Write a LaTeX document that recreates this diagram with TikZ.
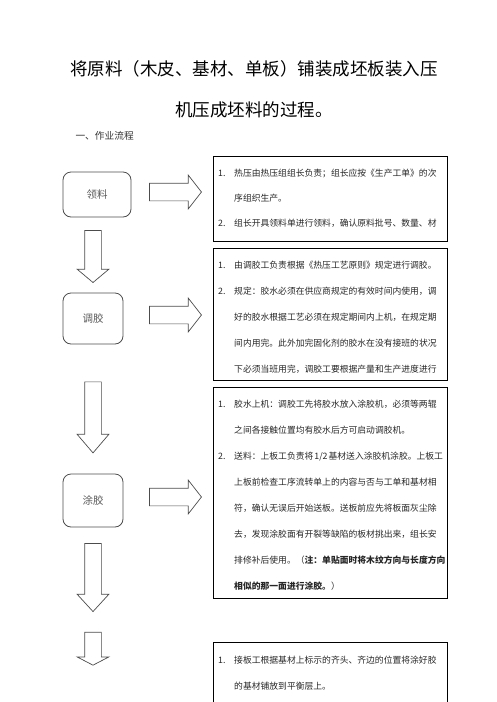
\documentclass[tikz,border=0pt]{standalone}
\usepackage{fontspec}
\setmainfont{Noto Sans CJK SC}
\usetikzlibrary{shapes.arrows,positioning}

\newcommand{\itm}[1]{\makebox[16pt][l]{#1}}
\newcommand{\ind}{\hspace*{16pt}}

\tikzset{
	stepbox/.style={draw=black!70, rounded corners=8pt, line width=0.8pt,
		text=black!65, font=\fontsize{10.5}{12}\selectfont, inner sep=0pt},
	notebox/.style={draw=black, line width=1.1pt, anchor=north west, inner sep=0pt},
	notetext/.style={inner sep=0pt, align=left, text=black!85,
		font=\fontsize{8.8}{26}\selectfont},
	bigarrow/.style={single arrow, draw=black!70, line width=0.7pt},
	rarrow/.style={bigarrow, inner sep=8.5pt, minimum width=33pt, single arrow head extend=8pt,
		minimum height=52pt, single arrow tip angle=104},
	darrow/.style={bigarrow, inner sep=8pt, shape border rotate=270, minimum width=31pt,
		single arrow head extend=7.5pt}
}

\begin{document}
\begin{tikzpicture}[x=1pt,y=-1pt]
	\useasboundingbox (0,0) rectangle (496,702);
	
	% title
	\node[font=\fontsize{17.5}{20}\selectfont] (title1) at (254,69) {将原料（木皮、基材、单板）铺装成坯板装入压};
	\node[font=\fontsize{17.5}{20}\selectfont] (title2) at (254,110) {机压成坯料的过程。};
	\node[anchor=west, font=\fontsize{9.7}{12}\selectfont, text=black!80] (flow) at (72,136) {一、作业流程};
	
	% steps
	\node[stepbox, minimum width=68pt, minimum height=45pt] (lingliao) at (97,194.5) {领料};
	\node[stepbox, minimum width=60pt, minimum height=51pt] (tiaojiao) at (93,318.5) {调胶};
	\node[stepbox, minimum width=60pt, minimum height=53pt] (tujiao) at (93,500.5) {涂胶};
	
	% arrows
	\node[rarrow] (r1) at (172,192) {};
	\node[rarrow] (r2) at (172,315) {};
	\node[rarrow] (r3) at (172,497) {};
	
	\node[darrow, minimum height=52pt, single arrow tip angle=100] (d1) at (93,253) {};
	\node[darrow, minimum height=71pt, single arrow tip angle=81] (d2) at (93,412.5) {};
	\node[darrow, minimum height=68pt, single arrow tip angle=85] (d3) at (93,573) {};
	\node[darrow, minimum height=33pt, single arrow tip angle=125] (d4) at (93,646.5) {};
	
	% notes
	\node[notebox, minimum width=234pt, minimum height=85pt] (note1) at (213,156) {};
	\node[notebox, minimum width=234pt, minimum height=132pt] (note2) at (213,248) {};
	\node[notebox, minimum width=234pt, minimum height=211pt] (note3) at (213,387) {};
	\node[notebox, minimum width=234pt, minimum height=80pt] (note4) at (213,642) {};
	
	\node[notetext, font=\fontsize{8.8}{25}\selectfont, below right=12.5pt and 5pt of note1.north west] (text1) {%
		\itm{1.}热压由热压组组长负责；组长应按《生产工单》的次\\
		\ind 序组织生产。\\
		\itm{2.}组长开具领料单进行领料，确认原料批号、数量、材};
	\node[notetext, below right=12.5pt and 5pt of note2.north west] (text2) {%
		\itm{1.}由调胶工负责根据《热压工艺原则》规定进行调胶。\\
		\itm{2.}规定：胶水必须在供应商规定的有效时间内使用，调\\
		\ind 好的胶水根据工艺必须在规定期间内上机，在规定期\\
		\ind 间内用完。此外加完固化剂的胶水在没有接班的状况\\
		\ind 下必须当班用完，调胶工要根据产量和生产进度进行};
	\node[notetext, below right=12.5pt and 5pt of note3.north west] (text3) {%
		\itm{1.}胶水上机：调胶工先将胶水放入涂胶机，必须等两辊\\
		\ind 之间各接触位置均有胶水后方可启动调胶机。\\
		\itm{2.}送料：上板工负责将\hspace{1pt}1/2\hspace{1pt}基材送入涂胶机涂胶。上板工\\
		\ind 上板前检查工序流转单上的内容与否与工单和基材相\\
		\ind 符，确认无误后开始送板。送板前应先将板面灰尘除\\
		\ind 去，发现涂胶面有开裂等缺陷的板材挑出来，组长安\\
		\ind 排修补后使用。（\textbf{注：单贴面时将木纹方向与长度方向}\\
		\ind \textbf{相似的那一面进行涂胶。}）};
	\node[notetext, below right=13.5pt and 5pt of note4.north west] (text4) {%
		\itm{1.}接板工根据基材上标示的齐头、齐边的位置将涂好胶\\
		\ind 的基材铺放到平衡层上。};
	
\end{tikzpicture}
\end{document}
